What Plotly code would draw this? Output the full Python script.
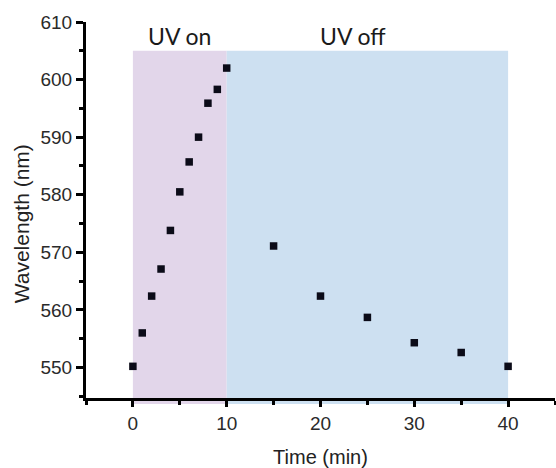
import plotly.graph_objects as go

# Data
time_on = [0, 1, 2, 3, 4, 5, 6, 7, 8, 9, 10]
wl_on = [550.2, 556.0, 562.4, 567.1, 573.8, 580.5, 585.7, 590.0, 595.9, 598.3, 602.0]
time_off = [15, 20, 25, 30, 35, 40]
wl_off = [571.1, 562.4, 558.7, 554.3, 552.6, 550.2]

phase_labels = ["UV on", "UV off"]
phase_start = [0, 10]
phase_end = [10, 40]
phase_label_x = [5, 23.5]
phase_colors = ["#e2d6ea", "#cde0f1"]
shade_top = 605

x_range = [-5, 45]
y_range = [544.7, 610]

fig = go.Figure()
fig.add_trace(go.Scatter(
    x=time_on + time_off, y=wl_on + wl_off, mode="markers",
    marker=dict(symbol="square", size=7.5, color="#0b0b18"),
    showlegend=False, cliponaxis=False,
))

top_frac = (shade_top - y_range[0]) / (y_range[1] - y_range[0])
for x0, x1, lx, c, lab in zip(phase_start, phase_end, phase_label_x, phase_colors, phase_labels):
    fig.add_shape(type="rect", xref="x", yref="paper", x0=x0, x1=x1,
                  y0=-0.016, y1=top_frac, fillcolor=c, line_width=0, layer="below")
    fig.add_annotation(x=lx, y=607.5, xref="x", yref="y", text=lab, showarrow=False,
                       font=dict(family="Lato", size=23, color="#1a1a1a"))

# y-axis title placed as a rotated annotation (centred slightly below plot middle, as in the reference)
fig.add_annotation(x=-0.137, y=575, xref="paper", yref="y", text="Wavelength (nm)",
                   textangle=-90, showarrow=False, xanchor="center", yanchor="middle",
                   font=dict(family="Liberation Sans", size=21, color="#222222"))

axis_font = dict(family="Liberation Sans", size=19, color="#2a2a2a")
fig.update_xaxes(
    range=x_range, showgrid=False, zeroline=False, automargin=False,
    showline=True, linecolor="black", linewidth=3,
    ticks="outside", ticklen=6, tickwidth=2.5, tickcolor="black",
    tick0=0, dtick=10, tickfont=axis_font,
    minor=dict(ticks="outside", ticklen=4, tickwidth=2.5, tickcolor="black", dtick=5, tick0=0, showgrid=False),
    title=dict(text="Time (min)", font=dict(family="Liberation Sans", size=20, color="#222222"), standoff=18),
)
fig.update_yaxes(
    range=y_range, showgrid=False, zeroline=False, automargin=False,
    showline=True, linecolor="black", linewidth=3,
    ticks="outside", ticklen=7, tickwidth=2.5, tickcolor="black",
    tick0=550, dtick=10, tickfont=axis_font,
    minor=dict(ticks="outside", ticklen=4, tickwidth=2.5, tickcolor="black", dtick=5, tick0=550, showgrid=False),
)
fig.update_layout(
    width=556, height=468,
    margin=dict(l=86, r=1, t=22, b=70),
    plot_bgcolor="white", paper_bgcolor="white",
)
fig.write_html("out.html", config={"displayModeBar": False},
               post_script="document.body.style.margin='0';document.body.style.overflow='hidden';")
